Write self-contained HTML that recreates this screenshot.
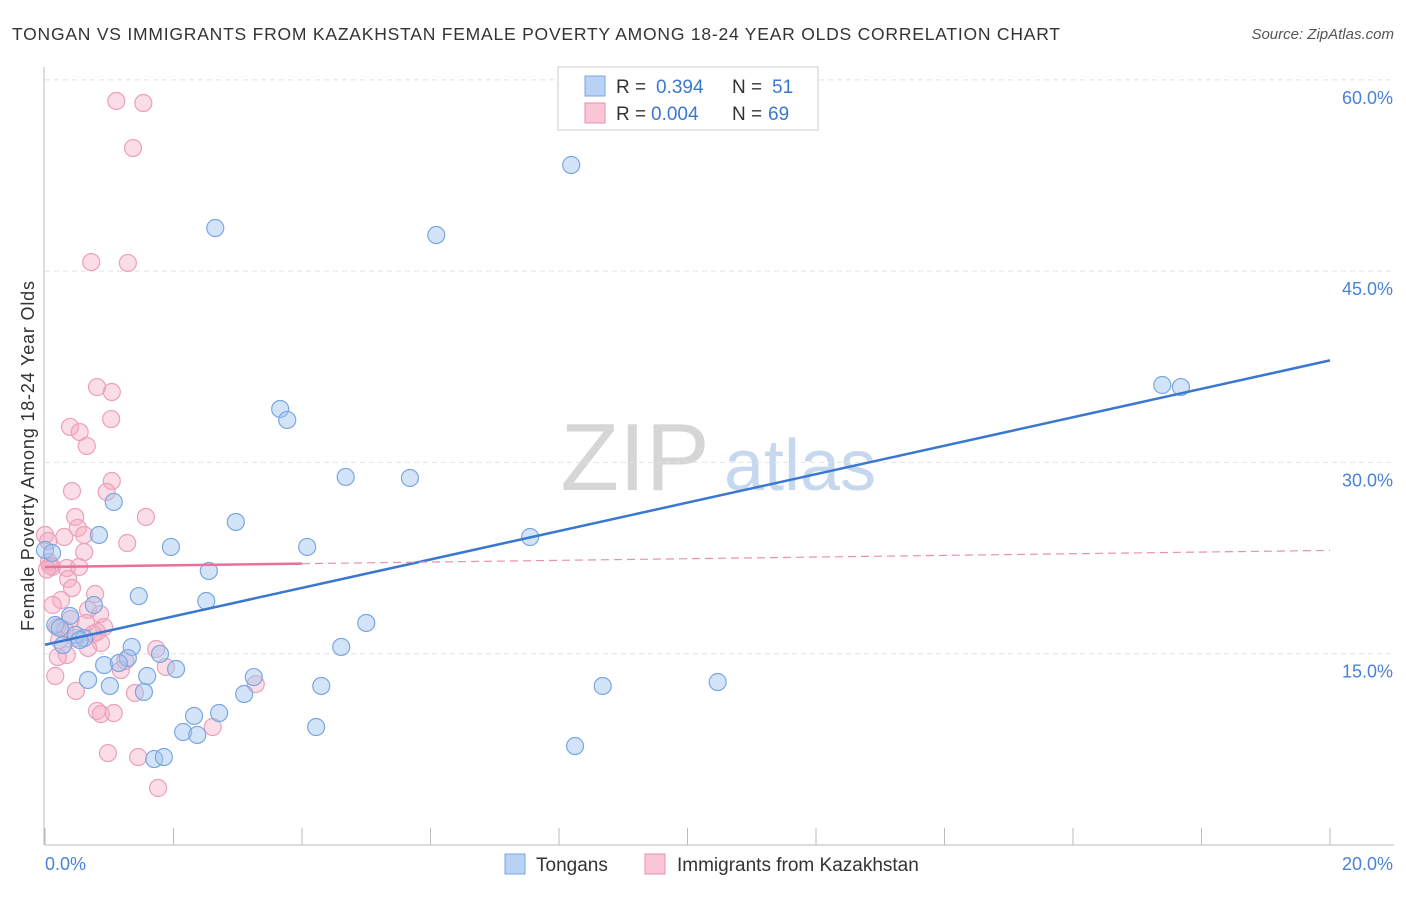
<!DOCTYPE html>
<html><head><meta charset="utf-8"><style>
body{margin:0;background:#fff;font-family:"Liberation Sans",sans-serif;}
svg text{font-family:"Liberation Sans",sans-serif;}
</style></head><body>
<svg id="chart" width="1406" height="892" xmlns="http://www.w3.org/2000/svg">
<text x="12" y="40" font-size="17.5" fill="#333" textLength="1048" lengthAdjust="spacing">TONGAN VS IMMIGRANTS FROM KAZAKHSTAN FEMALE POVERTY AMONG 18-24 YEAR OLDS CORRELATION CHART</text>
<text x="1394" y="39" font-size="15" fill="#555" font-style="italic" text-anchor="end">Source: ZipAtlas.com</text>
<text transform="translate(34,456) rotate(-90)" font-size="18" fill="#333" text-anchor="middle" textLength="350" lengthAdjust="spacing">Female Poverty Among 18-24 Year Olds</text>
<g>
<text x="635" y="490" font-size="96" font-family="Liberation Serif,serif" fill="#d6d6d6" text-anchor="middle">ZIP</text>
<text x="800" y="490" font-size="72" fill="#c5d8f0" text-anchor="middle">atlas</text>
</g>
<g id="grid"></g><g id="axes"></g><g id="marks"></g>
<g>
<rect x="558" y="67" width="260" height="63" fill="#fff" stroke="#ccc"/>
<rect x="585" y="76" width="20" height="20" fill="#b8d3f5" stroke="#7aa7e0"/>
<rect x="585" y="103" width="20" height="20" fill="#f9c6d6" stroke="#e890b0"/>
<text x="616" y="93" font-size="19" fill="#333">R =</text>
<text x="656" y="93" font-size="19" fill="#3a78d0">0.394</text>
<text x="732" y="93" font-size="19" fill="#333">N =</text>
<text x="772" y="93" font-size="19" fill="#3a78d0">51</text>
<text x="616" y="120" font-size="19" fill="#333">R =</text>
<text x="651" y="120" font-size="19" fill="#3a78d0">0.004</text>
<text x="732" y="120" font-size="19" fill="#333">N =</text>
<text x="768" y="120" font-size="19" fill="#3a78d0">69</text>
</g>
<g>
<rect x="505" y="854" width="20" height="20" fill="#b8d3f5" stroke="#7aa7e0"/>
<text x="536" y="871" font-size="19" fill="#333">Tongans</text>
<rect x="645" y="854" width="20" height="20" fill="#f9c6d6" stroke="#e890b0"/>
<text x="677" y="871" font-size="19" fill="#333">Immigrants from Kazakhstan</text>
</g>
</svg>
<script>
const blueX=[8.19,2.65,6.09,17.39,17.68,3.66,3.77,4.68,5.68,1.07,2.97,7.55,0.84,1.96,4.08,0,0.11,2.55,1.46,2.51,0.76,5.00,0.39,0.16,0.23,0.48,0.61,0.54,0.28,4.61,1.35,1.79,1.29,0.92,1.15,2.04,1.59,3.25,0.67,1.01,4.30,8.68,10.47,1.54,3.10,2.32,2.71,4.22,2.15,2.37,8.25,1.70,1.85];
const blueY=[53.32,48.38,47.83,36.07,35.91,34.19,33.33,28.86,28.78,26.90,25.33,24.15,24.31,23.37,23.37,23.13,22.90,21.49,19.52,19.13,18.82,17.41,17.96,17.25,17.02,16.47,16.23,16.07,15.68,15.53,15.53,14.98,14.66,14.11,14.27,13.80,13.25,13.17,12.94,12.47,12.47,12.47,12.78,12.00,11.84,10.12,10.35,9.25,8.86,8.63,7.76,6.74,6.90];
const pinkX=[1.11,1.53,1.37,0.72,1.29,0.81,1.04,1.03,0.39,0.54,0.65,0.42,1.04,0.96,1.57,0.47,0.51,0.30,0.61,1.28,0,0.05,0.61,0.06,0.11,0.34,0.53,0.36,0.42,0.25,0.78,0.12,0.67,0.86,0.40,0.64,0.92,0.19,0.31,0.81,0.75,0.47,0.22,0.87,0.67,1.73,0.34,0.20,1.25,1.88,1.18,0.16,3.28,0.48,1.40,0.81,0.87,1.07,2.61,0.98,1.45,1.76,0.08,0.03];
const pinkY=[58.34,58.18,54.65,45.71,45.64,35.91,35.52,33.40,32.78,32.38,31.29,27.76,28.54,27.68,25.72,25.72,24.86,24.15,24.31,23.68,24.31,23.84,22.97,22.19,21.80,21.72,21.80,20.86,20.15,19.21,19.68,18.82,18.43,18.11,17.72,17.41,17.09,17.09,16.86,16.70,16.55,16.23,16.07,15.84,15.45,15.37,14.90,14.74,14.43,13.96,13.72,13.25,12.62,12.08,11.92,10.51,10.27,10.35,9.25,7.21,6.90,4.47,21.9,21.6];
const blueTrend=[15.7,38.0];
const pinkTrend=[21.8,23.1];
const yTicks=[15,30,45,60];
const xTickLabels=["0.0%","20.0%"];
const NS="http://www.w3.org/2000/svg";
const X0=45,X1=1330,Y0=845,PXY=12.753;
const sx=v=>X0+(v/20)*(X1-X0);
const sy=v=>Y0-v*PXY;
function mk(tag,attrs,parent){const e=document.createElementNS(NS,tag);for(const k in attrs)e.setAttribute(k,attrs[k]);document.getElementById(parent).appendChild(e);return e;}
yTicks.forEach(t=>{
 const l=mk('line',{x1:X0,x2:1394,y1:sy(t),y2:sy(t),stroke:'#e2e2e2','stroke-dasharray':'5,4'},'grid');
 
 
 const tx=mk('text',{x:1393,y:sy(t)+24,'font-size':18,fill:'#4a82d6','text-anchor':'end'},'grid');
 tx.textContent=t.toFixed(1)+'%';
 
 
});
const ax=mk('line',{x1:X0,x2:1394,y1:Y0,y2:Y0,stroke:'#bbb'},'axes');


const ay=mk('line',{x1:44,x2:44,y1:67,y2:Y0,stroke:'#bbb'},'axes');


for(let i=0;i<=10;i++){
 const t=mk('line',{x1:sx(i*2),x2:sx(i*2),y1:Y0,y2:828,stroke:'#bbb'},'axes');
 
 
}
[[0,'start',45],[20,'end',1393]].forEach((d,i)=>{
 const t=mk('text',{x:d[2],y:870,'font-size':18,fill:'#4a82d6','text-anchor':d[1]},'axes');
 t.textContent=xTickLabels[i];
 
 
});
pinkX.forEach((x,i)=>{
 const c=mk('circle',{cx:sx(x),cy:sy(pinkY[i]),r:8.5,fill:'rgba(246,170,196,0.4)',stroke:'#eba0bb','stroke-width':1.2},'marks');
 
 
});
blueX.forEach((x,i)=>{
 const c=mk('circle',{cx:sx(x),cy:sy(blueY[i]),r:8.5,fill:'rgba(160,196,240,0.45)',stroke:'#7aa7e0','stroke-width':1.2},'marks');
 
 
});
const bt=mk('line',{x1:sx(0),y1:sy(blueTrend[0]),x2:sx(20),y2:sy(blueTrend[1]),stroke:'#3a78d0','stroke-width':2.5},'marks');


const f=v=>pinkTrend[0]+(pinkTrend[1]-pinkTrend[0])*v/20;
const pd=mk('line',{x1:sx(4),y1:sy(f(4)),x2:sx(20),y2:sy(f(20)),stroke:'#e890b0','stroke-width':1.2,'stroke-dasharray':'8,5'},'marks');


const ps=mk('line',{x1:sx(0),y1:sy(f(0)),x2:sx(4),y2:sy(f(4)),stroke:'#e8709a','stroke-width':2.5},'marks');


</script>
</body></html>
